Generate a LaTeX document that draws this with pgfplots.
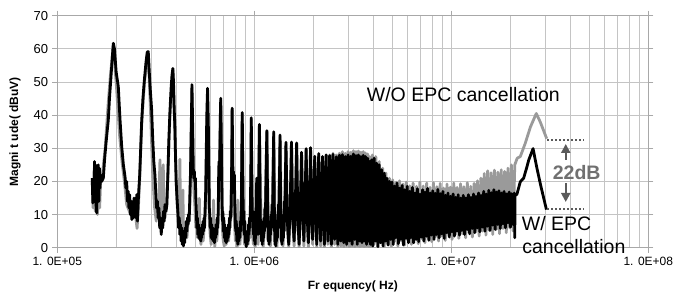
\documentclass[border=0pt]{standalone}
\usepackage{pgfplots}
\pgfplotsset{compat=1.18}
\usepackage{fontspec}
\setmainfont{Liberation Sans}
\usetikzlibrary{arrows.meta}
\definecolor{grayline}{HTML}{9A9A9A}
\definecolor{gridc}{HTML}{C4C4C4}
\definecolor{axisc}{HTML}{A8A8A8}
\definecolor{annot}{HTML}{5A5A5A}
\definecolor{dbtext}{HTML}{707070}
\begin{document}
\begin{tikzpicture}
\begin{axis}[
  scale only axis, width=591pt, height=232pt,
  xmode=log, xmin=1e5, xmax=1e8, ymin=0, ymax=70,
  xtick={1e5,1e6,1e7,1e8},
  xticklabels={1. 0E+05,1. 0E+06,1. 0E+07,1. 0E+08},
  ytick={0,10,...,70},
  grid=both,
  major grid style={gridc, line width=0.8pt},
  minor grid style={gridc, line width=0.8pt},
  axis line style={axisc, line width=0.8pt},
  tick style={axisc, line width=0.8pt},
  tick align=outside, major tick length=5pt, minor tick length=0pt,
  /pgf/number format/assume math mode=true,
  xticklabel style={font=\fontsize{12}{14}\selectfont, inner sep=0pt, anchor=north, yshift=-4pt},
  yticklabel style={font=\fontsize{13}{15}\selectfont, inner sep=0pt, anchor=east, xshift=-4pt},
  xlabel={Fr equency( Hz)},
  ylabel={Magni t ude( dBuV)},
  xlabel style={font=\bfseries\fontsize{12}{14}\selectfont, at={(axis description cs:0.5,-0.1823)}, anchor=base, inner sep=0pt},
  ylabel style={font=\bfseries\fontsize{12}{14}\selectfont, at={(axis description cs:-0.0716,0.5)}, anchor=center, inner sep=0pt},
  clip mode=individual,
]
% ---------------- W/O EPC cancellation (gray) ----------------
\addplot[grayline, line width=2.8pt, line join=round] table {
150400 20
152000 12
154000 24
156000 11
158000 20
160000 10
162000 22
164000 12
166000 20
170000 23
175000 30
181000 43
186000 52
192500 61
200000 48
207000 34
213000 26
219000 20
225000 13
232000 11
240000 9
247000 12
254000 5.8
258000 12
262000 21
268000 37
277000 50
289500 58.5
297000 42
305000 22
312000 12
318000 8
322000 14
326000 9
329000 18
332000 26.5
335000 14
338000 8
342000 16
345000 25
348000 12
352000 9
358000 12
364000 21
373000 40
386000 53.5
395000 36
404000 15
412000 7
416000 12
419000 26.7
422000 10
426000 3
430000 8
434000 17.4
437000 5
442000 2
448000 6
455000 3
463000 9
470000 12
477000 27
482500 48.5
488000 27
493000 18
500000 12
505000 6
510000 10
515000 3
522000 8
526000 14.9
530000 4
536000 1
542000 5
550000 2
558000 7
565000 11
573000 29
579000 47.5
585000 27
591000 8
597000 4
604000 1
610000 6
616000 3
621000 14.4
625000 4
630000 0.3
636000 4
645000 2
655000 8
663000 22
675500 44.5
682000 21
688000 6
696000 2
704000 0.5
712000 5
720000 1
730000 6
740000 2
750000 7
760000 10
766000 22
772000 41.5
778000 22
786000 14
794000 7
802000 2
810000 6
818000 0.2
824000 14.4
828000 1
836000 5
845000 1
855000 6
862000 20
868500 40.3
874000 22
882000 5
892000 1
900000 5
910000 0.2
920000 3
930000 1
940000 6
950000 3
958000 15
965000 38.7
972000 18
980000 4
990000 1
1000000 4
1010000 0.2
1020000 6
1029000 18.4
1036000 6
1045000 1
1054000 18
1061500 36.7
1085000 6
1109750 0.2
1134000 10
1158000 34.8
1182000 5
1206250 0.5
1230500 11
1254500 34.5
1278500 4
1302750 0.2
1327000 12
1351000 33.5
1375000 5
1399250 0.5
1423500 12
1447500 31.3
1471500 6
1495750 0.2
1520000 11
1544000 31.4
1568000 7
1592250 0.5
1616500 12
1640500 31.1
1664500 6
1689000 0.2
1713000 12
1737000 28.3
1761000 8
1785250 0.5
1809500 13
1833500 29.4
1857500 7
1881750 0.2
1906000 13
1930000 29.7
1954000 8
1978250 1
2002500 14
2026500 27.4
2050500 9
2074750 0.2
2099000 14
2123000 28
2147000 9
2171250 0.5
2195500 15
2219500 27.5
2243500 10
2267750 0.2
2292000 15
2316000 28
2340000 10
2364250 1
2388500 15
2412500 28
2436500 11
2460750 0.2
2485000 16
2509000 28.5
2533000 11
2557250 1
2581500 16
2605500 28
2629500 12
2653750 0.2
2678000 16
2702000 28.5
2726000 12
2750250 0.5
2774500 17
2798500 29
2822500 12
2846750 0.2
2871000 17
2895000 28.5
2919000 13
2943250 0.5
2967500 17
2991500 29
3015500 13
3039750 0.2
3064000 18
3088000 28.8
3112000 13
3136250 0.5
3160500 18
3184500 29.3
3208500 14
3232750 0.2
3257000 18
3281000 29
3305000 14
3329250 0.5
3353500 19
3377500 29.2
3401500 14
3425750 0.2
3450000 19
3474000 28.8
3498000 15
3522250 0.5
3546500 19
3570500 29
3594500 15
3618750 0.2
3643000 19
3667000 28.6
3691000 15
3715250 0.5
3739500 19
3763500 28.3
3787500 16
3811750 0.2
3836000 19
3860000 27.5
3900000 0.2
3978000 28
4058000 1
4139000 27.5
4221000 0.2
4306000 26
4392000 1.5
4480000 24
4569000 0.3
4661000 22.5
4754000 1.2
4849000 21
4946000 0.5
5045000 20.5
5146000 1.8
5249000 19.8
5354000 0.5
5461000 20.2
5570000 2
5681000 19.2
5795000 0.8
5911000 19.8
6029000 2.2
6150000 18.7
6273000 1
6398000 19.5
6526000 2.5
6657000 18.5
6790000 1.2
6926000 19.8
7064000 2.8
7205000 18.6
7350000 1.5
7497000 19.5
7647000 3
7799000 18.2
7955000 1.8
8115000 19.6
8277000 3.2
8442000 18.4
8611000 2
8783000 19.4
8959000 3.5
9138000 18
9321000 2.2
9508000 19.2
9698000 3.8
9892000 18.3
10090000 2.5
10291000 19.5
10497000 4
10707000 18.2
10921000 2.8
11140000 19.3
11362000 4.2
11590000 18.4
11822000 3
12058000 19.6
12299000 4.5
12545000 18.5
12796000 3.2
13052000 19.4
13313000 4.8
13579000 20.2
13851000 3.5
14128000 21
14411000 5
14699000 22.4
14993000 3.8
15293000 23.2
15598000 5.2
15910000 22.6
16229000 4
16553000 23.4
16884000 5.5
17222000 22.8
17567000 4.2
17918000 23.5
18276000 5.8
18642000 23
19015000 4.5
19395000 24
19783000 6
20179000 25
20582000 5
21000000 25
21600000 27
22400000 27.5
23700000 31.4
25200000 36.4
27000000 40.5
28300000 37.9
30500000 32.9
};
% ---------------- W/ EPC cancellation (black) ----------------
\addplot[black, line width=2.8pt, line join=round] table {
150400 21
151500 13.5
152500 20
153500 14
154500 26
155500 17
156500 25
157500 12
158500 10.5
159500 22
160500 15
161500 25
162500 14
163500 24
164500 18
166000 22
168000 20
171200 21
174000 27
177000 32
181500 38.5
184000 45
187000 51
190000 57
192500 61.7
195000 60
199000 53
204000 48.6
208000 39
212300 30.5
216500 25
220700 21.4
223000 18
225000 20
227000 14
229000 17
231000 12
233000 16
235000 10
237000 14
239000 8.5
241000 13
243000 9
245000 15
247000 9.5
249000 14
251000 9
253000 16
255000 8
257000 13
259000 17
262000 22
265000 30
268000 38
272000 45
277000 51
282000 56
286000 59
289500 59.2
293000 53
297000 47
301000 42
305000 33
309000 26
313000 22
316000 17
319000 12
322000 14
325000 9
328000 12
331000 6
334000 9
337000 4
340000 8
343000 6
346000 11
349000 8
352000 13
356000 11
360000 13
364000 22
368000 32
373000 41
378000 48
382000 52
386000 54.1
389000 50
392000 42
395000 37
398000 28
401000 20
404000 16.4
407000 13
410000 10
413000 6
416000 9
419000 4
422000 7
425000 2
428000 6
431000 1
434000 5
437000 0.5
440000 4
443000 1.5
446000 6
449000 3
452000 8
455000 5
458000 9
461000 7
464000 10
467000 8
470000 14
474000 22
478000 35
482500 49.2
487000 35
490000 24
493000 21
496000 23
499000 20
502000 21
505000 15
508000 11
511000 6
514000 9
517000 4
520000 7
523000 3
526000 6
529000 2.5
532000 5
535000 2
538000 5
541000 3
544000 7
547000 4
550000 8
553000 5
556000 9
559000 6
562000 11
566000 16
570000 28
574000 40
579000 48.1
584000 38
588000 24
591000 12
594000 10
597000 6
600000 9
604000 3
608000 7
612000 2.5
616000 6
620000 2
624000 5
628000 1.5
632000 5
636000 3
640000 7
644000 4
648000 9
652000 6
656000 11
660000 24
663000 26
666000 22
669000 30
672500 40
675500 45.1
679000 36
683000 22
686000 13
689000 8
692000 11
696000 5
700000 9
704000 3
708000 7
712000 2
716000 6
720000 1.5
724000 5
728000 2
732000 6
736000 3
740000 7
744000 4
748000 9
752000 6
756000 11
760000 9
764000 14
768000 26
772000 42.1
776000 30
780000 20
784000 23
788000 18
792000 22
796000 14
800000 9
805000 5
810000 8
815000 2
820000 6
825000 1
830000 5
835000 2
840000 6
845000 3
850000 8
855000 5
860000 14
864500 30
868500 40.8
872500 28
876500 16
880500 8
885000 11
890000 4
895000 8
900000 1.5
905000 5
910000 0.3
915000 4
920000 1
925000 5
930000 2
935000 7
940000 4
945000 9
950000 6
955000 12
960000 22
965000 39.2
970000 26
975000 14
980000 8
985000 11
990000 4
995000 7
1000000 2
1005000 6
1010000 1
1015000 5
1020000 9
1025000 18
1030000 21
1035000 15
1040000 8
1045000 4
1050000 12
1055000 25
1061500 37.2
1067000 22
1072000 10
1077000 4
1082000 8
1087000 2
1092000 6
1097000 1
1102000 5
1107000 2
1112000 7
1117000 3
1122000 9
1127000 5
1132000 12
1137000 8
1142000 14
1150000 26
1158000 35.3
1165000 20
1170000 8
1176000 2
1182000 6
1188000 1
1194000 5
1200000 2
1206000 8
1212000 4
1218000 10
1224000 6
1230000 13
1236000 9
1242000 15
1248000 24
1254500 35
1261000 18
1267000 6
1273000 1
1279000 5
1285000 0.5
1291000 4
1297000 2
1303000 7
1309000 3
1315000 10
1321000 6
1327000 13
1333000 8
1339000 16
1345000 25
1351000 34
1357000 20
1363000 7
1369000 2
1375000 6
1381000 1
1387000 5
1393000 2
1399000 8
1405000 3
1411000 10
1417000 5
1423000 14
1429000 8
1435000 17
1441000 24
1447500 31.8
1471000 8
1495750 1
1520000 12
1544000 31.9
1568000 9
1592250 2
1616500 14
1640500 31.6
1664500 8
1689000 1
1713000 13
1737000 28.8
1761000 10
1785250 2
1809500 15
1833500 29.9
1857500 9
1881750 1.5
1906000 14
1930000 30.2
1954000 10
1978250 2.5
2002500 16
2026500 27.6
2050500 11
2074750 1
2099000 15
2123000 28.4
2147000 10
2171250 2
2195500 16
2219500 27.5
2243500 12
2267750 1
2292000 17
2316000 28
2340000 11
2364250 2
2388500 16
2412500 27.8
2436500 13
2460750 1
2485000 17
2509000 28.2
2533000 12
2557250 2.5
2581500 18
2605500 27.4
2629500 13
2653750 1
2678000 17
2702000 27.9
2726000 14
2750250 2
2774500 18
2798500 28.1
2822500 13
2846750 1.5
2871000 19
2895000 27.5
2919000 14
2943250 1
2967500 18
2991500 28
3015500 15
3039750 2
3064000 19
3088000 27.6
3112000 14
3136250 1
3160500 20
3184500 28.3
3208500 15
3232750 2.5
3257000 19
3281000 27.8
3305000 16
3329250 1
3353500 20
3377500 28
3401500 15
3425750 2
3450000 21
3474000 27.5
3498000 16
3522250 1.5
3546500 20
3570500 27.9
3594500 17
3618750 2
3643000 21
3667000 27.5
3691000 16
3715250 1
3739500 20
3763500 27
3787500 17
3811750 2
3836000 20
3860000 26
3880000 1
3938000 26.5
3997000 0.5
4057000 27
4118000 2
4180000 25.5
4243000 0.3
4306000 25
4371000 1.5
4436000 23.5
4503000 0.5
4570000 22.5
4639000 2
4709000 21
4779000 0.8
4851000 20
4924000 2.5
4998000 19.8
5073000 1
5149000 18.6
5226000 3
5304000 19.5
5384000 1.2
5465000 18
5547000 2.5
5630000 18.8
5714000 0.8
5800000 17.5
5887000 2.8
5975000 18.5
6065000 1.5
6156000 17
6248000 3
6342000 18.2
6437000 1.5
6534000 16.5
6632000 2.5
6731000 17.8
6832000 1.8
6935000 16.2
7039000 3.2
7144000 17.5
7252000 2
7360000 16.8
7471000 3.5
7583000 17.9
7697000 2.2
7812000 16.5
7930000 3.8
8049000 17.2
8169000 2.5
8292000 16.4
8416000 4
8542000 17.6
8671000 3
8801000 16.3
8933000 4.2
9067000 17
9203000 2.8
9341000 15.8
9481000 4.5
9623000 16.5
9768000 3.2
9914000 15.5
10063000 4.8
10214000 16.2
10367000 3.5
10523000 15.2
10681000 5
10841000 16
11003000 3.8
11168000 15
11336000 5.2
11506000 15.8
11679000 4
11854000 15
12032000 5.5
12212000 16
12395000 4.2
12581000 15.2
12770000 5.8
12962000 16.2
13156000 4.5
13353000 15.5
13554000 6
13757000 16.5
13963000 4.8
14173000 15.8
14385000 6.2
14601000 17
14820000 5
15042000 16.2
15268000 6.5
15497000 17.3
15730000 5.2
15966000 16.6
16205000 6.8
16448000 17.5
16695000 5.5
16945000 16.8
17199000 7
17457000 17.2
17719000 5.8
17985000 16.5
18255000 7.2
18529000 17
18807000 6
19089000 16.2
19375000 7.5
19666000 16.8
19961000 6.2
20260000 16.3
20564000 7
20873000 16.5
21000000 3
21050000 16
21500000 16
22400000 19.9
23300000 21
24200000 24.4
24700000 26.4
26000000 29.9
27200000 24
28500000 18.5
30400000 11.5
};
% ---------------- annotations ----------------
\addplot[annot, line width=1.6pt, dash pattern=on 1.6pt off 2.4pt, forget plot] coordinates {(3.07e7,32.5) (4.68e7,32.5)};
\addplot[annot, line width=1.6pt, dash pattern=on 1.6pt off 2.4pt, forget plot] coordinates {(3.07e7,11.6) (4.68e7,11.6)};
\addplot[annot, line width=2pt, -{Triangle[width=9pt,length=9pt]}, forget plot] coordinates {(3.81e7,26.5) (3.81e7,31.3)};
\addplot[annot, line width=2pt, -{Triangle[width=9pt,length=9pt]}, forget plot] coordinates {(3.81e7,19.4) (3.81e7,13.8)};
\node[font=\fontsize{19.5}{22}\selectfont, anchor=base, inner sep=0pt] at (axis cs:1.151e7,44.05) {W/O EPC cancellation};
\node[font=\fontsize{19.5}{22}\selectfont, anchor=base west, inner sep=0pt] at (axis cs:2.277e7,5.34) {W/ EPC};
\node[font=\fontsize{19.5}{22}\selectfont, anchor=base west, inner sep=0pt] at (axis cs:2.29e7,-1.9) {cancellation};
\node[font=\bfseries\fontsize{19.5}{22}\selectfont, text=dbtext, anchor=center, inner sep=0pt] at (axis cs:4.33e7,22.7) {22dB};
\coordinate (o) at (rel axis cs:0,0);
\end{axis}
\pgfresetboundingbox
\path[use as bounding box] (o) ++(-57.3pt,-44.3pt) rectangle ++(673pt,292pt);
\end{tikzpicture}
\end{document}
